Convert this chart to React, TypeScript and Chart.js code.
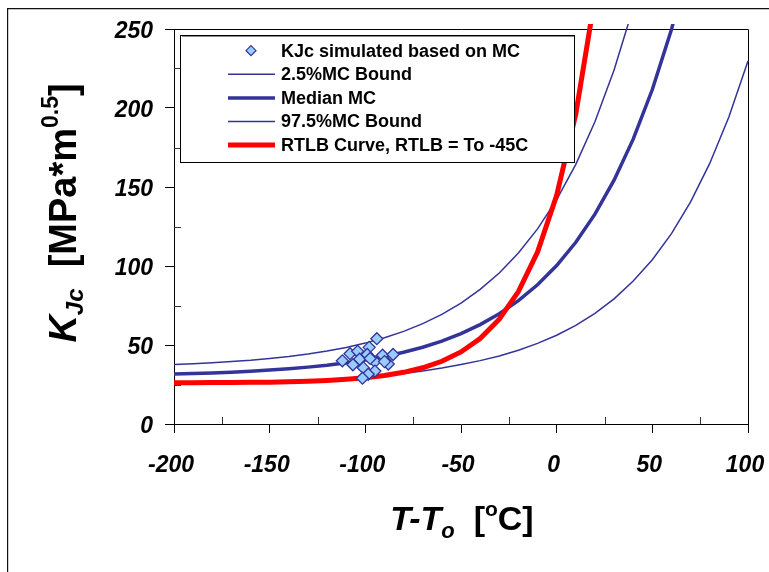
import React, { useEffect, useLayoutEffect, useRef } from "react";
import { Chart, registerables } from "chart.js";

Chart.register(...registerables);

// ---- data ----
const tempC = [-200, -190, -180, -170, -160, -150, -140, -130, -120, -110, -100, -90, -80, -70, -60, -50, -40, -30, -20, -10, 0, 10, 20, 30, 40, 50, 60, 70, 80, 90, 100, 110];

const kLower = [25.1, 25.2, 25.4, 25.6, 25.9, 26.2, 26.5, 27.0, 27.5, 28.2, 29.2, 30.6, 32.0, 33.6, 35.4, 37.6, 40.1, 43.1, 46.7, 51.0, 56.2, 62.4, 70.0, 79.2, 90.5, 104.0, 120.5, 140.6, 164.9, 194.3, 229.8, 272.8];
const kMedian = [31.6, 31.9, 32.3, 32.8, 33.4, 34.1, 35.0, 36.0, 37.2, 38.7, 40.5, 42.7, 45.4, 48.6, 52.5, 57.2, 62.9, 69.8, 78.1, 88.1, 100.3, 115.0, 132.8, 154.3, 180.3, 211.7, 249.7, 295.7];
const kUpper = [37.6, 38.1, 38.7, 39.5, 40.3, 41.4, 42.7, 44.3, 46.2, 48.4, 51.2, 54.6, 58.6, 63.5, 69.4, 76.5, 85.2, 95.6, 108.2, 123.5, 142.0, 164.3, 191.3, 224.0, 263.5];
const kRTLB = [26.1, 26.1, 26.2, 26.3, 26.4, 26.5, 26.8, 27.1, 27.6, 28.3, 29.2, 30.7, 32.7, 35.6, 39.7, 45.6, 54.1, 66.3, 83.8, 108.8, 144.7, 196.2, 270.0];

const simT = [-94, -112, -108, -104, -98, -99, -103, -95, -91, -85.5, -88, -106.5, -101, -95, -98.5, -101.5, -97.5, -90];
const simK = [54, 40, 44.5, 46, 48.5, 44, 41, 39.5, 43.5, 44, 38, 37.5, 35.5, 33.5, 31.5, 29, 41.5, 39.5];

const xMinorTicks = [-175, -125, -75, -25, 25, 75];
const yMinorTicks = [25, 75, 125, 175, 225];

const seriesLabels = [
  "KJc simulated based on MC",
  "2.5%MC Bound",
  "Median MC",
  "97.5%MC Bound",
  "RTLB Curve, RTLB = To -45C",
];

const FONT = "'Liberation Sans', Arial, Helvetica, sans-serif";
const NAVY = "#333399";
const RED = "#FF0000";

const toPts = (ys: number[]) => ys.map((y, i) => ({ x: tempC[i], y }));

type Seg = { t: string; size: number; italic?: boolean; dy?: number };

function drawRich(ctx: CanvasRenderingContext2D, segs: Seg[], cx: number, baseY: number) {
  const fontOf = (s: Seg) => `${s.italic ? "italic " : ""}bold ${s.size}px ${FONT}`;
  let total = 0;
  const widths = segs.map((s) => {
    ctx.font = fontOf(s);
    const w = ctx.measureText(s.t).width;
    total += w;
    return w;
  });
  let x = cx - total / 2;
  ctx.textAlign = "left";
  ctx.textBaseline = "alphabetic";
  ctx.fillStyle = "#000";
  segs.forEach((s, i) => {
    ctx.font = fontOf(s);
    ctx.fillText(s.t, x, baseY + (s.dy || 0));
    x += widths[i];
  });
}

const decorPlugin = {
  id: "decor",
  beforeDatasetsDraw(chart: any) {
    const { ctx, chartArea: a, scales } = chart;
    ctx.save();
    // outer frame (left + top visible)
    ctx.strokeStyle = "#111";
    ctx.lineWidth = 1.2;
    ctx.beginPath();
    ctx.moveTo(0.6, chart.height);
    ctx.lineTo(0.6, 0.6);
    ctx.lineTo(chart.width, 0.6);
    ctx.stroke();
    // plot area top/right border
    ctx.strokeStyle = "#000";
    ctx.lineWidth = 1;
    ctx.beginPath();
    ctx.moveTo(a.left, Math.round(a.top) + 0.5);
    ctx.lineTo(Math.round(a.right) + 0.5, Math.round(a.top) + 0.5);
    ctx.lineTo(Math.round(a.right) + 0.5, a.bottom);
    ctx.stroke();
    // minor ticks, inward
    ctx.strokeStyle = "#333";
    ctx.beginPath();
    xMinorTicks.forEach((v) => {
      const px = Math.round(scales.x.getPixelForValue(v)) + 0.5;
      ctx.moveTo(px, a.bottom);
      ctx.lineTo(px, a.bottom - 7);
    });
    yMinorTicks.forEach((v) => {
      const py = Math.round(scales.y.getPixelForValue(v)) + 0.5;
      ctx.moveTo(a.left, py);
      ctx.lineTo(a.left + 7, py);
    });
    ctx.stroke();

    // axis titles
    const F = 38;
    ctx.save();
    ctx.translate(69, 205);
    ctx.rotate(-Math.PI / 2);
    drawRich(ctx, [
      { t: "K", size: F, italic: true },
      { t: "Jc", size: Math.round(F * 0.62), italic: true, dy: 7 },
      { t: "  [MPa*m", size: F },
      { t: "0.5", size: Math.round(F * 0.6), dy: -18 },
      { t: "]", size: F },
    ], 0, 0);
    ctx.restore();

    const G = 34;
    drawRich(ctx, [
      { t: "T-T", size: G, italic: true },
      { t: "o", size: Math.round(G * 0.65), italic: true, dy: 8 },
      { t: "  [", size: G },
      { t: "o", size: Math.round(G * 0.62), dy: -14 },
      { t: "C]", size: G },
    ], 455, 522);
    ctx.restore();
  },
  afterDatasetsDraw(chart: any) {
    const { ctx } = chart;
    ctx.save();
    // legend box
    const L = 173, T = 27, R = 567, B = 154;
    ctx.fillStyle = "#fff";
    ctx.fillRect(L, T, R - L, B - T);
    ctx.strokeStyle = "#000";
    ctx.lineWidth = 1;
    ctx.strokeRect(L + 0.5, T + 0.5, R - L, B - T);
    ctx.strokeStyle = "#888";
    ctx.beginPath();
    ctx.moveTo(L + 2, T + 1.5);
    ctx.lineTo(R, T + 1.5);
    ctx.stroke();

    chart.data.datasets.forEach((ds: any, i: number) => {
      const cy = 42.7 + i * 23.6;
      if (ds.showLine === false) {
        const cx = 244, r = 5;
        ctx.beginPath();
        ctx.moveTo(cx, cy - r);
        ctx.lineTo(cx + r, cy);
        ctx.lineTo(cx, cy + r);
        ctx.lineTo(cx - r, cy);
        ctx.closePath();
        ctx.fillStyle = ds.backgroundColor;
        ctx.fill();
        ctx.strokeStyle = ds.borderColor;
        ctx.lineWidth = 1.2;
        ctx.stroke();
      } else {
        ctx.beginPath();
        ctx.moveTo(221, cy);
        ctx.lineTo(268, cy);
        ctx.strokeStyle = ds.borderColor;
        ctx.lineWidth = ds.borderWidth;
        ctx.lineCap = "butt";
        ctx.stroke();
      }
      ctx.fillStyle = "#000";
      ctx.font = `bold 18px ${FONT}`;
      ctx.textAlign = "left";
      ctx.textBaseline = "middle";
      ctx.fillText(ds.label, 274, cy + 1);
    });
    ctx.restore();
  },
};

export default function App() {
  const ref = useRef<HTMLCanvasElement | null>(null);

  useLayoutEffect(() => {
    document.body.style.margin = "0";
    document.body.style.overflow = "hidden";
  }, []);

  useEffect(() => {
    if (!ref.current) return;
    const clip = { left: 0, top: 5, right: 7, bottom: 0 };
    const tickFont = { family: FONT, size: 23, style: "italic" as const, weight: "bold" as const };
    const chart = new Chart(ref.current, {
      type: "scatter",
      data: {
        datasets: [
          {
            label: seriesLabels[0],
            data: simT.map((x, i) => ({ x, y: simK[i] })),
            showLine: false,
            pointStyle: "rectRot",
            pointRadius: 6,
            pointBorderWidth: 1.3,
            backgroundColor: "#99CCFF",
            borderColor: NAVY,
            order: 0,
          },
          {
            label: seriesLabels[1],
            data: toPts(kLower),
            showLine: true,
            borderColor: NAVY,
            borderWidth: 1.5,
            pointRadius: 0,
            order: 4,
            clip,
          },
          {
            label: seriesLabels[2],
            data: toPts(kMedian),
            showLine: true,
            borderColor: NAVY,
            borderWidth: 3.5,
            pointRadius: 0,
            order: 3,
            clip,
          },
          {
            label: seriesLabels[3],
            data: toPts(kUpper),
            showLine: true,
            borderColor: NAVY,
            borderWidth: 1.5,
            pointRadius: 0,
            order: 2,
            clip,
          },
          {
            label: seriesLabels[4],
            data: toPts(kRTLB),
            showLine: true,
            borderColor: RED,
            borderWidth: 5,
            pointRadius: 0,
            order: 1,
            clip,
          },
        ],
      } as any,
      options: {
        animation: false,
        responsive: false,
        maintainAspectRatio: false,
        layout: { padding: { top: 21, right: 21, left: 0, bottom: 0 } },
        plugins: { legend: { display: false }, tooltip: { enabled: false } },
        scales: {
          x: {
            type: "linear",
            min: -200,
            max: 100,
            ticks: { stepSize: 50, color: "#000", font: tickFont, padding: 19, maxRotation: 0, labelOffset: -3 },
            grid: { drawOnChartArea: false, drawTicks: true, tickLength: 9, color: "#000", lineWidth: 1 },
            border: { display: true, color: "#000", width: 1 },
            afterFit: (s: any) => { s.height = 148; s.paddingLeft = 0; s.paddingRight = 0; },
          },
          y: {
            type: "linear",
            min: 0,
            max: 250,
            ticks: { stepSize: 50, color: "#000", font: tickFont, padding: 12, labelOffset: 3 },
            grid: { drawOnChartArea: false, drawTicks: true, tickLength: 9, color: "#000", lineWidth: 1 },
            border: { display: true, color: "#000", width: 1 },
            afterFit: (s: any) => { s.width = 167; s.paddingTop = 0; s.paddingBottom = 0; },
          },
        },
      } as any,
      plugins: [decorPlugin],
    });
    return () => chart.destroy();
  }, []);

  return (
    <div style={{ width: 769, height: 572, position: "relative", overflow: "hidden", background: "#fff" }}>
      <canvas ref={ref} width={762} height={564} style={{ position: "absolute", left: 7, top: 8, display: "block" }} />
    </div>
  );
}
